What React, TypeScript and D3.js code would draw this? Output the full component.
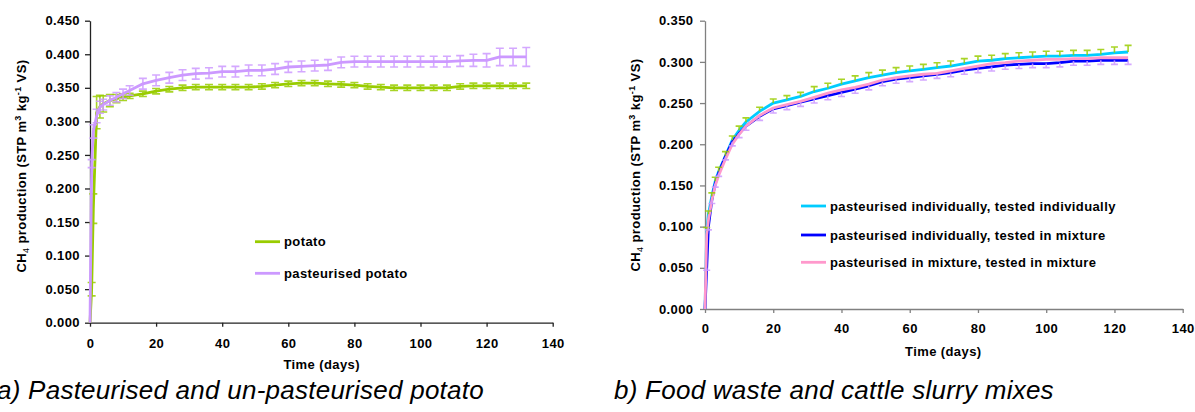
import React, { useRef, useEffect } from 'react';
import * as d3 from 'd3';

// ---- chart a) potato ----
const potatoDays = [0, 0.5, 1, 2, 3, 4, 6, 8, 10, 12, 16, 20, 24, 28, 32, 36, 40, 44, 48, 52, 56, 60, 64, 68, 72, 76, 80, 84, 88, 92, 96, 100, 104, 108, 112, 116, 120, 124, 128, 132];
const potato = [0, 0.05, 0.17, 0.313, 0.322, 0.326, 0.331, 0.334, 0.336, 0.338, 0.341, 0.345, 0.348, 0.35, 0.351, 0.351, 0.351, 0.351, 0.351, 0.352, 0.354, 0.356, 0.357, 0.357, 0.356, 0.355, 0.354, 0.352, 0.351, 0.35, 0.35, 0.35, 0.35, 0.35, 0.352, 0.353, 0.353, 0.353, 0.353, 0.353];
const potatoErr = [0, 0.01, 0.022, 0.024, 0.017, 0.012, 0.009, 0.006, 0.005, 0.004, 0.004, 0.004, 0.004, 0.004, 0.004, 0.004, 0.004, 0.004, 0.004, 0.004, 0.004, 0.004, 0.004, 0.004, 0.004, 0.004, 0.004, 0.004, 0.004, 0.004, 0.004, 0.004, 0.004, 0.004, 0.004, 0.004, 0.004, 0.004, 0.004, 0.004];
const pastPotato = [0, 0.237, 0.285, 0.308, 0.321, 0.325, 0.331, 0.336, 0.341, 0.346, 0.356, 0.361, 0.365, 0.369, 0.371, 0.372, 0.374, 0.374, 0.376, 0.376, 0.378, 0.381, 0.382, 0.383, 0.384, 0.388, 0.389, 0.389, 0.389, 0.389, 0.389, 0.389, 0.389, 0.389, 0.39, 0.391, 0.391, 0.396, 0.396, 0.396];
const pastPotatoErr = [0, 0.006, 0.01, 0.01, 0.009, 0.008, 0.007, 0.007, 0.007, 0.007, 0.008, 0.008, 0.008, 0.008, 0.008, 0.008, 0.008, 0.008, 0.008, 0.008, 0.008, 0.008, 0.008, 0.008, 0.008, 0.008, 0.008, 0.008, 0.008, 0.008, 0.008, 0.008, 0.008, 0.008, 0.008, 0.009, 0.01, 0.013, 0.013, 0.014];

// ---- chart b) food waste / slurry ----
const mixDays = [0, 0.5, 1, 2, 3, 4, 6, 8, 10, 12, 16, 20, 24, 28, 32, 36, 40, 44, 48, 52, 56, 60, 64, 68, 72, 76, 80, 84, 88, 92, 96, 100, 104, 108, 112, 116, 120, 124];
const indivIndiv = [0, 0.095, 0.115, 0.137, 0.155, 0.167, 0.186, 0.205, 0.217, 0.227, 0.24, 0.25, 0.254, 0.258, 0.264, 0.268, 0.273, 0.277, 0.281, 0.284, 0.287, 0.289, 0.291, 0.293, 0.295, 0.298, 0.301, 0.302, 0.304, 0.305, 0.306, 0.307, 0.307, 0.308, 0.308, 0.309, 0.311, 0.312];
const indivIndivErr = [0, 0.004, 0.004, 0.004, 0.005, 0.005, 0.005, 0.005, 0.005, 0.005, 0.005, 0.005, 0.005, 0.005, 0.006, 0.006, 0.006, 0.006, 0.006, 0.006, 0.006, 0.006, 0.006, 0.006, 0.006, 0.006, 0.006, 0.006, 0.006, 0.006, 0.006, 0.006, 0.006, 0.006, 0.006, 0.006, 0.007, 0.008];
const indivMix = [0, 0.05, 0.1, 0.132, 0.152, 0.165, 0.185, 0.203, 0.213, 0.222, 0.234, 0.243, 0.247, 0.251, 0.255, 0.259, 0.263, 0.267, 0.271, 0.276, 0.279, 0.281, 0.283, 0.285, 0.287, 0.29, 0.292, 0.294, 0.296, 0.297, 0.298, 0.298, 0.299, 0.301, 0.301, 0.302, 0.302, 0.302];
const indivMixErr = [0, 0.003, 0.004, 0.004, 0.004, 0.004, 0.004, 0.005, 0.005, 0.005, 0.005, 0.005, 0.005, 0.005, 0.005, 0.005, 0.005, 0.005, 0.005, 0.005, 0.005, 0.005, 0.005, 0.005, 0.005, 0.005, 0.005, 0.005, 0.005, 0.005, 0.005, 0.005, 0.005, 0.005, 0.005, 0.005, 0.005, 0.005];
const mixMix = [0, 0.09, 0.108, 0.132, 0.15, 0.162, 0.182, 0.2, 0.212, 0.222, 0.235, 0.244, 0.248, 0.252, 0.257, 0.262, 0.266, 0.269, 0.273, 0.278, 0.281, 0.283, 0.285, 0.286, 0.289, 0.292, 0.295, 0.298, 0.299, 0.301, 0.302, 0.303, 0.303, 0.304, 0.304, 0.305, 0.305, 0.305];

const xTicks = [0, 20, 40, 60, 80, 100, 120, 140];
const font = '"Liberation Sans", Arial, sans-serif';
const fs = 13;
const ls = 0.4;

type Series = { name: string; x: number[]; y: number[]; color: string };
type Bars = { x: number[]; y: number[]; e: number[]; color: string; dir: 'both' | 'up' | 'down' };

function drawPanel(svg, opt) {
  const { left, right, top, bottom, yMax, yTicks, axisColor, series, bars, legend, capW,
    yLabelX, yLabelY, timeX, timeY, yPad, xPad, caption, captionX } = opt;

  const x = d3.scaleLinear().domain([0, 140]).range([left, right]);
  const y = d3.scaleLinear().domain([0, yMax]).range([bottom, top]);
  const g = svg.append('g');

  const yAx = g.append('g')
    .attr('transform', `translate(${left},0)`)
    .call(d3.axisLeft(y).tickValues(yTicks).tickFormat(d3.format('.3f')).tickSize(5).tickSizeOuter(0).tickPadding(yPad));
  const xAx = g.append('g')
    .attr('transform', `translate(0,${bottom})`)
    .call(d3.axisBottom(x).tickValues(xTicks).tickSize(4).tickSizeOuter(0).tickPadding(xPad));
  [yAx, xAx].forEach(a => {
    a.selectAll('path,line').attr('stroke', axisColor).attr('stroke-width', 1.3);
    a.selectAll('text').attr('font-family', font).attr('font-weight', 'bold')
      .attr('font-size', fs).attr('letter-spacing', ls).attr('fill', '#000');
  });

  const drawSeries = (s: Series) => {
    const pts = s.x.map((d, i) => [d, s.y[i]] as [number, number]);
    g.append('path')
      .attr('d', d3.line().x(d => x(d[0])).y(d => y(d[1]))(pts))
      .attr('fill', 'none').attr('stroke', s.color).attr('stroke-width', 2.8).attr('stroke-linejoin', 'round');
  };
  const drawBars = (b: Bars) => {
    b.x.forEach((d, i) => {
      if (b.e[i] <= 0) return;
      const hi = b.dir === 'down' ? b.y[i] : b.y[i] + b.e[i];
      const lo = b.dir === 'up' ? b.y[i] : b.y[i] - b.e[i];
      const cx = x(d);
      let p = `M${cx},${y(lo)}L${cx},${y(hi)}`;
      if (b.dir !== 'down') p += `M${cx - capW / 2},${y(hi)}L${cx + capW / 2},${y(hi)}`;
      if (b.dir !== 'up') p += `M${cx - capW / 2},${y(lo)}L${cx + capW / 2},${y(lo)}`;
      g.append('path').attr('d', p).attr('stroke', b.color).attr('stroke-width', 1.6).attr('fill', 'none').attr('opacity', 0.85);
    });
  };
  series.forEach((s, i) => {
    drawSeries(s);
    if (opt.barsAfterEach && bars[i]) drawBars(bars[i]);
  });
  if (!opt.barsAfterEach) bars.forEach(drawBars);

  // legend
  legend.forEach(l => {
    g.append('line').attr('x1', l.x).attr('x2', l.x + 25).attr('y1', l.y).attr('y2', l.y)
      .attr('stroke', l.color).attr('stroke-width', 2.8);
    g.append('text').attr('x', l.x + 29).attr('y', l.y + 4.5)
      .attr('font-family', font).attr('font-weight', 'bold').attr('font-size', fs)
      .attr('letter-spacing', ls).text(l.name);
  });

  // y label with sub/superscripts
  const t = g.append('text')
    .attr('transform', `translate(${yLabelX},${yLabelY}) rotate(-90)`)
    .attr('text-anchor', 'middle')
    .attr('font-family', font).attr('font-weight', 'bold').attr('font-size', fs).attr('letter-spacing', ls);
  t.append('tspan').text('CH');
  t.append('tspan').attr('font-size', 9).attr('font-weight', 'normal').attr('dy', 2.5).text('4');
  t.append('tspan').attr('dy', -2.5).text(' production (STP m');
  t.append('tspan').attr('font-size', 9).attr('dy', -5).text('3');
  t.append('tspan').attr('dy', 5).text(' kg');
  t.append('tspan').attr('font-size', 9).attr('dy', -5).text('-1');
  t.append('tspan').attr('dy', 5).text(' VS)');

  g.append('text').attr('x', timeX).attr('y', timeY).attr('text-anchor', 'middle')
    .attr('font-family', font).attr('font-weight', 'bold').attr('font-size', fs)
    .attr('letter-spacing', ls).text('Time (days)');

  g.append('text').attr('x', captionX).attr('y', 399)
    .attr('font-family', font).attr('font-style', 'italic').attr('font-size', 26)
    .attr('letter-spacing', 0.25).text(caption);
}

export default function App() {
  const ref = useRef<SVGSVGElement>(null);

  useEffect(() => {
    const svg = d3.select(ref.current);
    svg.selectAll('*').remove();

    drawPanel(svg, {
      left: 90, right: 552.7, top: 20.7, bottom: 322.7, yMax: 0.45,
      yTicks: [0, 0.05, 0.1, 0.15, 0.2, 0.25, 0.3, 0.35, 0.4, 0.45],
      axisColor: '#222', capW: 8, yPad: 5, xPad: 12,
      series: [
        { name: 'potato', x: potatoDays, y: potato, color: '#99CC00' },
        { name: 'pasteurised potato', x: potatoDays, y: pastPotato, color: '#CC99FF' },
      ],
      bars: [
        { x: potatoDays, y: potato, e: potatoErr, color: '#99CC00', dir: 'both' },
        { x: potatoDays, y: pastPotato, e: pastPotatoErr, color: '#CC99FF', dir: 'both' },
      ],
      barsAfterEach: true,
      legend: [
        { name: 'potato', color: '#99CC00', x: 255, y: 241.7 },
        { name: 'pasteurised potato', color: '#CC99FF', x: 255, y: 273.3 },
      ],
      yLabelX: 26, yLabelY: 166, timeX: 321.7, timeY: 369,
      caption: 'a) Pasteurised and un-pasteurised potato', captionX: -3,
    });

    drawPanel(svg, {
      left: 705, right: 1182.7, top: 20.7, bottom: 309, yMax: 0.35,
      yTicks: [0, 0.05, 0.1, 0.15, 0.2, 0.25, 0.3, 0.35],
      axisColor: '#808080', capW: 7, yPad: 6.5, xPad: 11,
      series: [
        { name: 'pasteurised individually, tested individually', x: mixDays, y: indivIndiv, color: '#00CCFF' },
        { name: 'pasteurised individually, tested in mixture', x: mixDays, y: indivMix, color: '#0000FF' },
        { name: 'pasteurised in mixture, tested in mixture', x: mixDays, y: mixMix, color: '#FF99CC' },
      ],
      bars: [
        { x: mixDays, y: indivIndiv, e: indivIndivErr, color: '#99CC00', dir: 'up' },
        { x: mixDays, y: indivMix, e: indivMixErr, color: '#CC99FF', dir: 'down' },
      ],
      barsAfterEach: false,
      legend: [
        { name: 'pasteurised individually, tested individually', color: '#00CCFF', x: 801, y: 206 },
        { name: 'pasteurised individually, tested in mixture', color: '#0000FF', x: 801, y: 235 },
        { name: 'pasteurised in mixture, tested in mixture', color: '#FF99CC', x: 801, y: 262.3 },
      ],
      yLabelX: 640, yLabelY: 165, timeX: 943.3, timeY: 356,
      caption: 'b) Food waste and cattle slurry mixes', captionX: 614,
    });
  }, []);

  return (
    <svg ref={ref} width={1195} height={412}
      style={{ position: 'absolute', left: 0, top: 0, background: '#fff' }} />
  );
}
